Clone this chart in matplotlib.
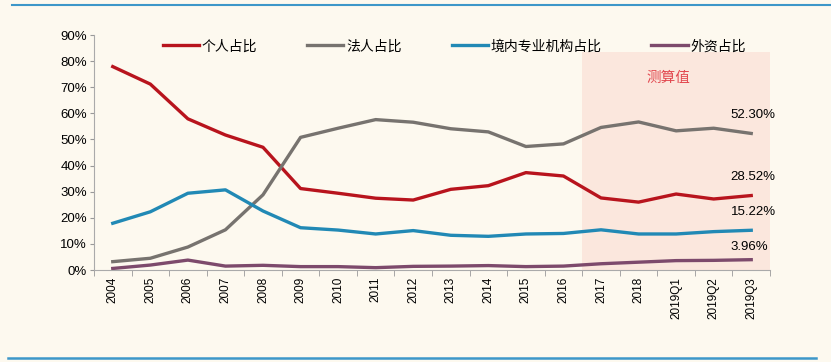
import numpy as np
import matplotlib.pyplot as plt
from matplotlib.lines import Line2D
from matplotlib.ticker import FuncFormatter

plt.rcParams['font.family'] = ['Noto Sans CJK SC', 'DejaVu Sans']

years = ['2004', '2005', '2006', '2007', '2008', '2009', '2010', '2011', '2012',
         '2013', '2014', '2015', '2016', '2017', '2018', '2019Q1', '2019Q2', '2019Q3']

# shares in %
personal = [77.9, 71.2, 57.9, 51.7, 47.0, 31.2, 29.4, 27.5, 26.8,
            30.9, 32.3, 37.3, 36.0, 27.6, 26.0, 29.1, 27.2, 28.52]
corporate = [3.2, 4.5, 8.8, 15.4, 28.8, 50.8, 54.3, 57.6, 56.6,
             54.1, 52.9, 47.3, 48.3, 54.6, 56.7, 53.3, 54.3, 52.30]
domestic = [17.9, 22.3, 29.4, 30.7, 22.6, 16.2, 15.3, 13.8, 15.1,
            13.3, 12.9, 13.8, 14.0, 15.4, 13.8, 13.8, 14.7, 15.22]
foreign = [0.6, 1.9, 3.8, 1.5, 1.8, 1.3, 1.3, 0.9, 1.4,
           1.5, 1.7, 1.3, 1.5, 2.4, 3.0, 3.6, 3.7, 3.96]

end_labels = ['52.30%', '28.52%', '15.22%', '3.96%']

bg = '#fdf9ef'
fig = plt.figure(figsize=(8.31, 3.62), dpi=100, facecolor=bg)
ax = fig.add_axes([0.1131, 0.2541, 0.8135, 0.6492], facecolor=bg)

x = np.arange(len(years))

# shaded estimate region
ax.fill_between([12.5, 17.5], 0, 83.5, color='#fbe7dd', lw=0, zorder=0)
ax.text(14.8, 73.5, '测算值', color='#e2484f', fontsize=10.5, ha='center', va='center')

ax.plot(x, personal, color='#b8141d', lw=2.4, label='个人占比')
ax.plot(x, corporate, color='#77736f', lw=2.4, label='法人占比')
ax.plot(x, domestic, color='#2189b5', lw=2.4, label='境内专业机构占比')
ax.plot(x, foreign, color='#7d4a6c', lw=2.4, label='外资占比')

num_font = ['Liberation Sans', 'DejaVu Sans']
ax.text(17.05, 59.3, end_labels[0], fontsize=9.5, ha='center', va='center', family=num_font)
ax.text(17.05, 35.8, end_labels[1], fontsize=9.5, ha='center', va='center', family=num_font)
ax.text(17.05, 22.4, end_labels[2], fontsize=9.5, ha='center', va='center', family=num_font)
ax.text(16.95, 8.7, end_labels[3], fontsize=9.5, ha='center', va='center', family=num_font)

ax.set_xlim(-0.5, 17.5)
ax.set_ylim(0, 90)
ax.set_yticks(np.arange(0, 91, 10))
ax.yaxis.set_major_formatter(FuncFormatter(lambda v, p: '%d%%' % v))
ax.set_xticks(x)
ax.set_xticklabels(years, rotation=90, fontsize=8.5, family=num_font)
for lab in ax.get_yticklabels():
    lab.set_family(num_font)
ax.set_xticks(np.arange(-0.5, 17.6, 1), minor=True)
ax.tick_params(axis='x', which='major', length=0, pad=5)
ax.tick_params(axis='x', which='minor', length=4, color='#999999')
ax.tick_params(axis='y', length=3, color='#999999', labelsize=9.5, pad=2)

for s in ['top', 'right']:
    ax.spines[s].set_visible(False)
ax.spines['left'].set_color('#aaaaaa')
ax.spines['bottom'].set_color('#aaaaaa')

ax.legend(loc='upper center', bbox_to_anchor=(0.533, 1.035), ncol=4, frameon=False,
          fontsize=10, handlelength=2.6, handletextpad=0.2, columnspacing=3.6)

# decorative frame lines
fig.add_artist(Line2D([0.015, 1.0], [0.986, 0.986], color='#3d97c9', lw=1.5))
fig.add_artist(Line2D([0.01, 0.982], [0.011, 0.011], color='#3d97c9', lw=1.8))

fig.savefig('out.png', dpi=100, facecolor=bg)
